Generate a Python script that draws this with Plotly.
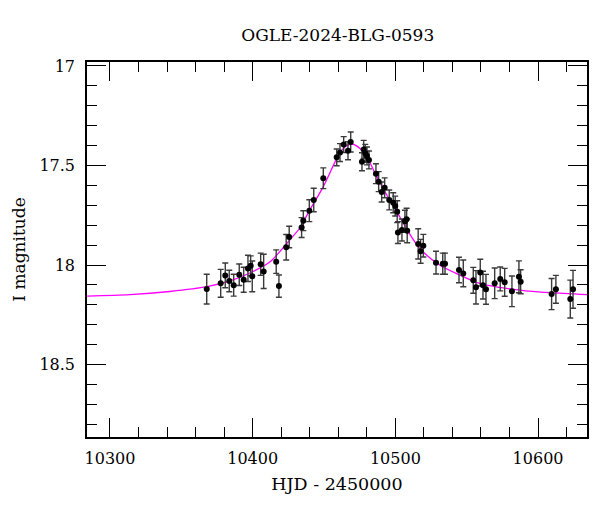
import plotly.graph_objects as go

# observed photometry (HJD - 2450000, I mag, error)
hjd = [10367.8, 10377.6, 10380.8, 10383.6, 10386.7, 10390.6, 10393.7, 10396.7,
       10398.6, 10399.7, 10405.6, 10407.7, 10416.5, 10418.4, 10423.5, 10425.6,
       10434.3, 10435.5, 10439.7, 10442.8, 10449.5, 10458.9, 10461.2, 10463.8,
       10466.8, 10468.7, 10476.6, 10477.8, 10478.9, 10480.1, 10481.5, 10486.4,
       10488.3, 10490.4, 10492.5, 10495.7, 10498.5, 10499.9, 10501.3, 10501.8,
       10504.6, 10506.7, 10507.9, 10508.3, 10516.0, 10517.7, 10519.6, 10528.5,
       10533.2, 10534.8, 10544.6, 10547.6, 10554.6, 10556.5, 10559.5, 10561.4,
       10563.5, 10569.6, 10573.5, 10576.6, 10581.7, 10586.6, 10587.8, 10609.5,
       10612.5, 10622.6, 10624.5]
mag = [18.121, 18.092, 18.052, 18.080, 18.101, 18.049, 18.074, 18.017,
       18.004, 18.057, 17.996, 18.032, 17.983, 18.106, 17.911, 17.859,
       17.812, 17.777, 17.727, 17.673, 17.564, 17.459, 17.435, 17.395,
       17.426, 17.382, 17.481, 17.419, 17.439, 17.452, 17.472, 17.541,
       17.581, 17.633, 17.612, 17.673, 17.687, 17.704, 17.732, 17.837,
       17.824, 17.780, 17.770, 17.828, 17.894, 17.931, 17.903, 17.988,
       17.993, 17.993, 18.025, 18.042, 18.077, 18.112, 18.038, 18.101,
       18.122, 18.092, 18.070, 18.087, 18.132, 18.059, 18.084, 18.146,
       18.122, 18.171, 18.122]
err = [0.075, 0.070, 0.062, 0.054, 0.055, 0.054, 0.063, 0.066,
       0.050, 0.077, 0.056, 0.086, 0.059, 0.056, 0.064, 0.054,
       0.050, 0.050, 0.055, 0.059, 0.052, 0.042, 0.045, 0.040,
       0.045, 0.050, 0.045, 0.045, 0.045, 0.045, 0.045, 0.050,
       0.050, 0.050, 0.050, 0.050, 0.050, 0.050, 0.055, 0.055,
       0.055, 0.055, 0.055, 0.060, 0.076, 0.060, 0.057, 0.057,
       0.053, 0.053, 0.064, 0.067, 0.065, 0.084, 0.067, 0.070,
       0.075, 0.077, 0.060, 0.070, 0.077, 0.080, 0.060, 0.078,
       0.070, 0.095, 0.095]

# model curve
model_t = [10284, 10314, 10342, 10368, 10384, 10398, 10412, 10426, 10433,
           10440, 10449.5, 10459, 10463.5, 10469.4, 10475.2, 10480, 10487,
           10494, 10501, 10509, 10517, 10531, 10545, 10559, 10573, 10587,
           10608, 10634.3]
model_mag = [18.156, 18.149, 18.133, 18.109, 18.080, 18.040, 17.985, 17.874,
             17.814, 17.724, 17.606, 17.464, 17.414, 17.392, 17.414, 17.456,
             17.556, 17.648, 17.732, 17.832, 17.916, 18.000, 18.050, 18.092,
             18.112, 18.126, 18.139, 18.149]

x_ticks = [10300, 10400, 10500, 10600]
y_ticks = [17, 17.5, 18, 18.5]

font = "DejaVu Serif"

fig = go.Figure()

fig.add_trace(go.Scatter(x=model_t, y=model_mag, mode='lines',
                         line=dict(color='#ff00ff', width=1.3, shape='spline', smoothing=0.8),
                         showlegend=False))

fig.add_trace(go.Scatter(x=hjd, y=mag, mode='markers',
                         marker=dict(color='black', size=6),
                         error_y=dict(type='data', array=err, color='#3a3a3a',
                                      thickness=1.4, width=3),
                         showlegend=False))

# page body has an 8px margin, so the figure is a bit smaller than the window
fig.update_layout(
    width=592, height=504,
    margin=dict(l=79, r=13, t=54, b=75),
    paper_bgcolor='white', plot_bgcolor='white',
    font=dict(family=font, size=16, color='black'),
    title=dict(text='OGLE-2024-BLG-0593', x=0.557, xanchor='center',
               y=0.946, yanchor='middle', font=dict(family=font, size=17)),
    xaxis=dict(
        range=[10283.9, 10634.3],
        tickvals=x_ticks,
        ticktext=[str(t) for t in x_ticks],
        ticks='inside', ticklen=19, tickwidth=1, tickcolor='black',
        minor=dict(dtick=20, tick0=10300, ticks='inside', ticklen=10,
                   tickwidth=1, tickcolor='black'),
        showline=True, linecolor='black', linewidth=1.5, mirror='ticks',
        showgrid=False, zeroline=False, automargin=False,
        ticklabelstandoff=6,
        title=dict(text='HJD - 2450000', standoff=11, font=dict(size=17.5)),
    ),
    yaxis=dict(
        range=[18.864, 16.98],
        tickvals=y_ticks,
        ticktext=['17', '17.5', '18', '18.5'],
        ticks='inside', ticklen=19, tickwidth=1, tickcolor='black',
        minor=dict(dtick=0.1, tick0=17, ticks='inside', ticklen=10,
                   tickwidth=1, tickcolor='black'),
        showline=True, linecolor='black', linewidth=1.5, mirror='ticks',
        showgrid=False, zeroline=False, automargin=False,
        ticklabelstandoff=7,
        title=dict(text='I magnitude', standoff=9, font=dict(size=17)),
    ),
)

fig.write_html("out.html")
